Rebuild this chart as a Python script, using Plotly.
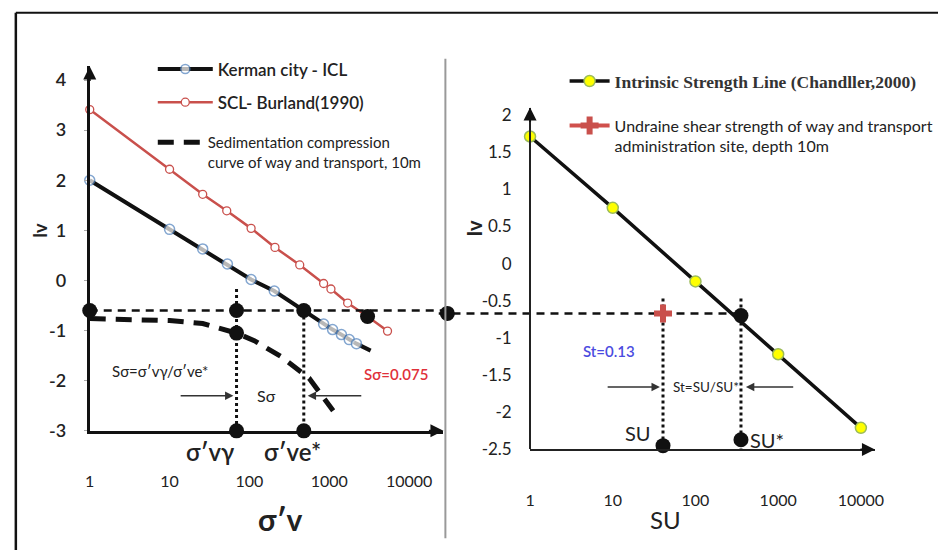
import numpy as np
import plotly.graph_objects as go

W, H = 947, 560
FONT = "Lato, 'Open Sans', sans-serif"
SERIF = "'Liberation Serif', 'Times New Roman', serif"
INK = "#222222"

# ---------------- left panel data : sigma'v vs Iv ----------------
kerman_sv = [1, 10, 26, 53, 105, 205, 850, 1100, 1420, 1780, 2190, 3300]
kerman_iv = [2.00, 1.02, 0.63, 0.33, 0.02, -0.21, -0.87, -0.98, -1.08, -1.18, -1.26, -1.40]

scl_sv = [1, 10, 26, 52, 105, 209, 427, 850, 1050, 1700, 3020, 5370]
scl_iv = [3.41, 2.22, 1.72, 1.39, 1.04, 0.66, 0.31, -0.06, -0.17, -0.45, -0.72, -1.01]

sed_sv = [1, 10, 26, 69, 115, 250, 560, 720, 1120]
sed_iv = [-0.76, -0.80, -0.86, -1.05, -1.20, -1.52, -1.95, -2.20, -2.60]

iv_level_left = -0.6
sv_gamma = 69
sv_e_star = 480
sv_scl_cross = 3020
iv_scl_cross = -0.72
iv_sed_gamma = -1.05
iv_gamma_top = -0.17
s_sigma = 0.075

# ---------------- right panel data : SU vs Iv ----------------
isl_su = [1, 10, 100, 1000, 10000]
isl_iv = [1.71, 0.75, -0.24, -1.22, -2.21]

su_site = 40.5
iv_site = -0.67
su_star = 355
iv_su_star = -0.70
su_link = 0.1
iv_su_top = -0.47
su_base_iv = [-2.45, -2.37]
st = 0.13

x_ticks = [1, 10, 100, 1000, 10000]
x_tick_text = ["1", "10", "100", "1000", "10000"]
l_y_ticks = [-3, -2, -1, 0, 1, 2, 3, 4]
l_y_text = ["-3", "-2", "-1", "0", "1", "2", "3", "4"]
r_y_ticks = [-2.5, -2, -1.5, -1, -0.5, 0, 0.5, 1, 1.5, 2]
r_y_text = ["-2.5", "-2", "-1.5", "-1", "-0.5", "0", "0.5", "1", "1.5", "2"]

# axis ranges (log10 units for the log axes)
L_X = [0.0, 4.43]
L_Y = [-3.0, 4.27]
R_X = [-1.107, 4.17]
R_Y = [-2.5, 2.1]

fig = go.Figure()

# ---------- left panel ----------
fig.add_trace(go.Scatter(
    x=sed_sv, y=sed_iv, mode="lines", xaxis="x", yaxis="y",
    line=dict(color="#111111", width=5, dash="16px,10px"),
    name="Sedimentation compression<br>curve of way and transport, 10m",
    legend="legend3"))
fig.add_trace(go.Scatter(
    x=scl_sv, y=scl_iv, mode="lines+markers", xaxis="x", yaxis="y",
    line=dict(color="#c9504c", width=2.5),
    marker=dict(size=8, color="white", line=dict(color="#c9504c", width=1.3)),
    name="SCL- Burland(1990)", legend="legend2", cliponaxis=False))
fig.add_trace(go.Scatter(
    x=kerman_sv, y=kerman_iv, mode="lines+markers", xaxis="x", yaxis="y",
    line=dict(color="#111111", width=4),
    marker=dict(size=[10] * (len(kerman_sv) - 1) + [0], color="white",
                line=dict(color="#4f81bd", width=1.5)),
    name="Kerman city - ICL", legend="legend", cliponaxis=False))
# horizontal dashed reference
fig.add_trace(go.Scatter(
    x=[kerman_sv[0], 10 ** L_X[1]], y=[iv_level_left] * 2, mode="lines",
    xaxis="x", yaxis="y", line=dict(color="#111111", width=2.5, dash="8px,6px"),
    showlegend=False))
# vertical dotted lines
fig.add_trace(go.Scatter(
    x=[sv_gamma, sv_gamma, None, sv_e_star, sv_e_star],
    y=[iv_gamma_top, L_Y[0], None, iv_level_left, L_Y[0]], mode="lines",
    xaxis="x", yaxis="y", line=dict(color="#111111", width=3, dash="3px,3px"),
    showlegend=False))
# key points
fig.add_trace(go.Scatter(
    x=[kerman_sv[0], sv_gamma, sv_gamma, sv_e_star, sv_scl_cross, sv_gamma, sv_e_star],
    y=[iv_level_left, iv_level_left, iv_sed_gamma, iv_level_left, iv_scl_cross, L_Y[0], L_Y[0]],
    mode="markers", xaxis="x", yaxis="y", cliponaxis=False,
    marker=dict(size=15, color="#111111"), showlegend=False))

# ---------- right panel ----------
fig.add_trace(go.Scatter(
    x=isl_su, y=isl_iv, mode="lines+markers", xaxis="x2", yaxis="y2",
    line=dict(color="#111111", width=3.5),
    marker=dict(size=11, color="#ffff00", line=dict(color="#9bbb59", width=1.5)),
    name="<b>Intrinsic Strength Line (Chandller,2000)</b>", legend="legend4",
    cliponaxis=False))
fig.add_trace(go.Scatter(
    x=[10 ** R_X[0], su_star], y=[iv_site] * 2, mode="lines",
    xaxis="x2", yaxis="y2", line=dict(color="#111111", width=2.5, dash="8px,6px"),
    showlegend=False))
fig.add_trace(go.Scatter(
    x=[su_site, su_site, None, su_star, su_star],
    y=[iv_su_top, R_Y[0], None, iv_su_top, R_Y[0]], mode="lines",
    xaxis="x2", yaxis="y2", line=dict(color="#111111", width=3, dash="3px,3px"),
    showlegend=False))
fig.add_trace(go.Scatter(
    x=[su_site], y=[iv_site], mode="lines+markers", xaxis="x2", yaxis="y2",
    line=dict(color="#d0504c", width=4),
    marker=dict(symbol="cross", size=15, color="#c9504c"),
    name="Undraine shear strength of way and transport<br>administration site, depth 10m",
    legend="legend5", cliponaxis=False))
fig.add_trace(go.Scatter(
    x=[su_link, su_star, su_site, su_star],
    y=[iv_site, iv_su_star, su_base_iv[0], su_base_iv[1]],
    mode="markers", xaxis="x2", yaxis="y2", cliponaxis=False,
    marker=dict(size=15, color="#111111"), showlegend=False))
# helper axis carrying the right panel's x axis line
fig.add_trace(go.Scatter(x=[], y=[], xaxis="x3", yaxis="y2", showlegend=False))

axis_common = dict(showgrid=False, zeroline=False, color=INK)

fig.update_layout(
    width=W, height=H, autosize=False,
    margin=dict(l=0, r=0, t=0, b=0),
    paper_bgcolor="white", plot_bgcolor="rgba(0,0,0,0)",
    font=dict(family=FONT, color=INK, size=14),
    hovermode=False,
    xaxis=dict(type="log", domain=[86 / W, 445 / W], range=L_X, anchor="y",
               showline=True, linecolor="#111111", linewidth=3,
               tickvals=x_ticks, ticktext=x_tick_text, ticks="",
               ticklabelstandoff=34, tickfont=dict(size=16, family=FONT, color=INK),
               **axis_common),
    yaxis=dict(domain=[1 - 438 / H, 1 - 65 / H], range=L_Y, anchor="x",
               showline=True, linecolor="#111111", linewidth=3,
               tickvals=l_y_ticks, ticktext=l_y_text, ticks="outside", ticklen=3,
               tickcolor="#aaaaaa", ticklabelstandoff=14,
               tickfont=dict(size=18, family=FONT, color=INK, weight=600),
               **axis_common),
    xaxis2=dict(type="log", domain=[440 / W, 883 / W], range=R_X, anchor="y2",
                showline=False, tickvals=x_ticks, ticktext=x_tick_text, ticks="",
                ticklabelstandoff=40, tickfont=dict(size=16, family=FONT, color=INK),
                **axis_common),
    yaxis2=dict(domain=[1 - 457 / H, 1 - 107 / H], range=R_Y, anchor="free",
                position=533 / W, showline=True, linecolor="#222222", linewidth=2,
                tickvals=r_y_ticks, ticktext=r_y_text, ticks="",
                ticklabelstandoff=14, tickfont=dict(size=17, family=FONT, color=INK),
                **axis_common),
    xaxis3=dict(domain=[533 / W, 883 / W], range=[0, 1], anchor="y2",
                showline=True, linecolor="#222222", linewidth=2,
                showticklabels=False, ticks="", **axis_common),
    legend=dict(x=150 / W, y=1 - 68 / H, xanchor="left", yanchor="middle",
                bgcolor="rgba(0,0,0,0)", itemwidth=55,
                font=dict(size=17, family=FONT, color=INK, weight=600)),
    legend2=dict(x=150 / W, y=1 - 102 / H, xanchor="left", yanchor="middle",
                 bgcolor="rgba(0,0,0,0)", itemwidth=55,
                 font=dict(size=17, family=FONT, color=INK, weight=600)),
    legend3=dict(x=150 / W, y=1 - 126 / H, xanchor="left", yanchor="top",
                 bgcolor="rgba(0,0,0,0)", itemwidth=45, valign="top",
                 font=dict(size=15, family=FONT, color=INK)),
    legend4=dict(x=568 / W, y=1 - 80 / H, xanchor="left", yanchor="middle",
                 bgcolor="rgba(0,0,0,0)", itemwidth=40,
                 font=dict(size=17.5, family=SERIF, color="#333333")),
    legend5=dict(x=568 / W, y=1 - 108 / H, xanchor="left", yanchor="top",
                 bgcolor="rgba(0,0,0,0)", itemwidth=40, valign="top",
                 font=dict(size=16, family=FONT, color=INK)),
)

# ---------- frame and divider ----------
fig.add_shape(type="line", xref="paper", yref="paper", x0=11 / W, x1=1,
              y0=1 - 10 / H, y1=1 - 10 / H, line=dict(color="#111111", width=2))
fig.add_shape(type="line", xref="paper", yref="paper", x0=11 / W, x1=11 / W,
              y0=0, y1=1 - 10 / H, line=dict(color="#111111", width=2.5))
fig.add_shape(type="line", xref="paper", yref="paper", x0=447 / W, x1=447 / W,
              y0=1 - 548 / H, y1=1 - 57 / H, line=dict(color="#999999", width=2))

ann = []
# axis arrow heads
for xr, yr, x, y, ax, ay in [
        ("x", "y", L_X[0], L_Y[1], 0, 16), ("x", "y", L_X[1], L_Y[0], -16, 0),
        ("x2", "y2", 0.0, R_Y[1], 0, 16), ("x2", "y2", R_X[1], R_Y[0], -16, 0)]:
    ann.append(dict(xref=xr, yref=yr, x=x, y=y, ax=ax, ay=ay, text="",
                    showarrow=True, arrowhead=2, arrowsize=1.3, arrowwidth=2,
                    arrowcolor="#111111"))

# double-arrow markers for S sigma and St
arrow_y_left = -2.3
arrow_y_right = -1.66
for xr, yr, head, tail, yv in [
        ("x", "y", 1.80, 1.12, arrow_y_left), ("x", "y", 2.73, 3.42, arrow_y_left),
        ("x2", "y2", 1.57, 0.92, arrow_y_right), ("x2", "y2", 2.61, 3.20, arrow_y_right)]:
    ann.append(dict(xref=xr, yref=yr, x=head, y=yv, ax=tail, ay=yv,
                    axref=xr, ayref=yr, text="", showarrow=True, arrowhead=2,
                    arrowsize=1.2, arrowwidth=1.4, arrowcolor="#333333"))

def txt(xr, yr, x, y, s, size, color=INK, family=FONT, weight=None, angle=0):
    f = dict(size=size, color=color, family=family)
    if weight:
        f["weight"] = weight
    ann.append(dict(xref=xr, yref=yr, x=x, y=y, text=s, showarrow=False,
                    font=f, textangle=angle, xanchor="center", yanchor="middle"))

# left panel labels
txt("x", "y", 0.89, -1.81, "Sσ=σ′vγ/σ′ve*", 15)
txt("x", "y", 2.21, -2.30, "Sσ", 16)
txt("x", "y", 3.84, -1.87, f"Sσ={s_sigma}", 15, color="#e0303a", weight=600)
txt("paper", "paper", 208 / W, 1 - 459 / H, "σ′vγ", 24, weight=600)
txt("paper", "paper", 292 / W, 1 - 459 / H, "σ′ve*", 24, weight=600)
# right panel labels
txt("x2", "y2", 0.95, -1.18, f"St={st}", 15, color="#4b4be0", weight=600)
txt("x2", "y2", 2.13, -1.66, "St=SU/SU*", 13.5)
txt("x2", "y2", 1.31, -2.28, "SU", 20)
txt("x2", "y2", 2.86, -2.37, "SU*", 20)
# axis titles
txt("paper", "paper", 35 / W, 1 - 233 / H, "Iv", 18, weight=700, angle=-90)
txt("paper", "paper", 476 / W, 1 - 230 / H, "Iv", 20, weight=700, angle=-90)
txt("paper", "paper", 280 / W, 1 - 528 / H, "σ′v", 30, weight=700)
txt("paper", "paper", 670 / W, 1 - 529 / H, "SU", 24)

fig.update_layout(annotations=ann)

fig.write_html("out.html")
